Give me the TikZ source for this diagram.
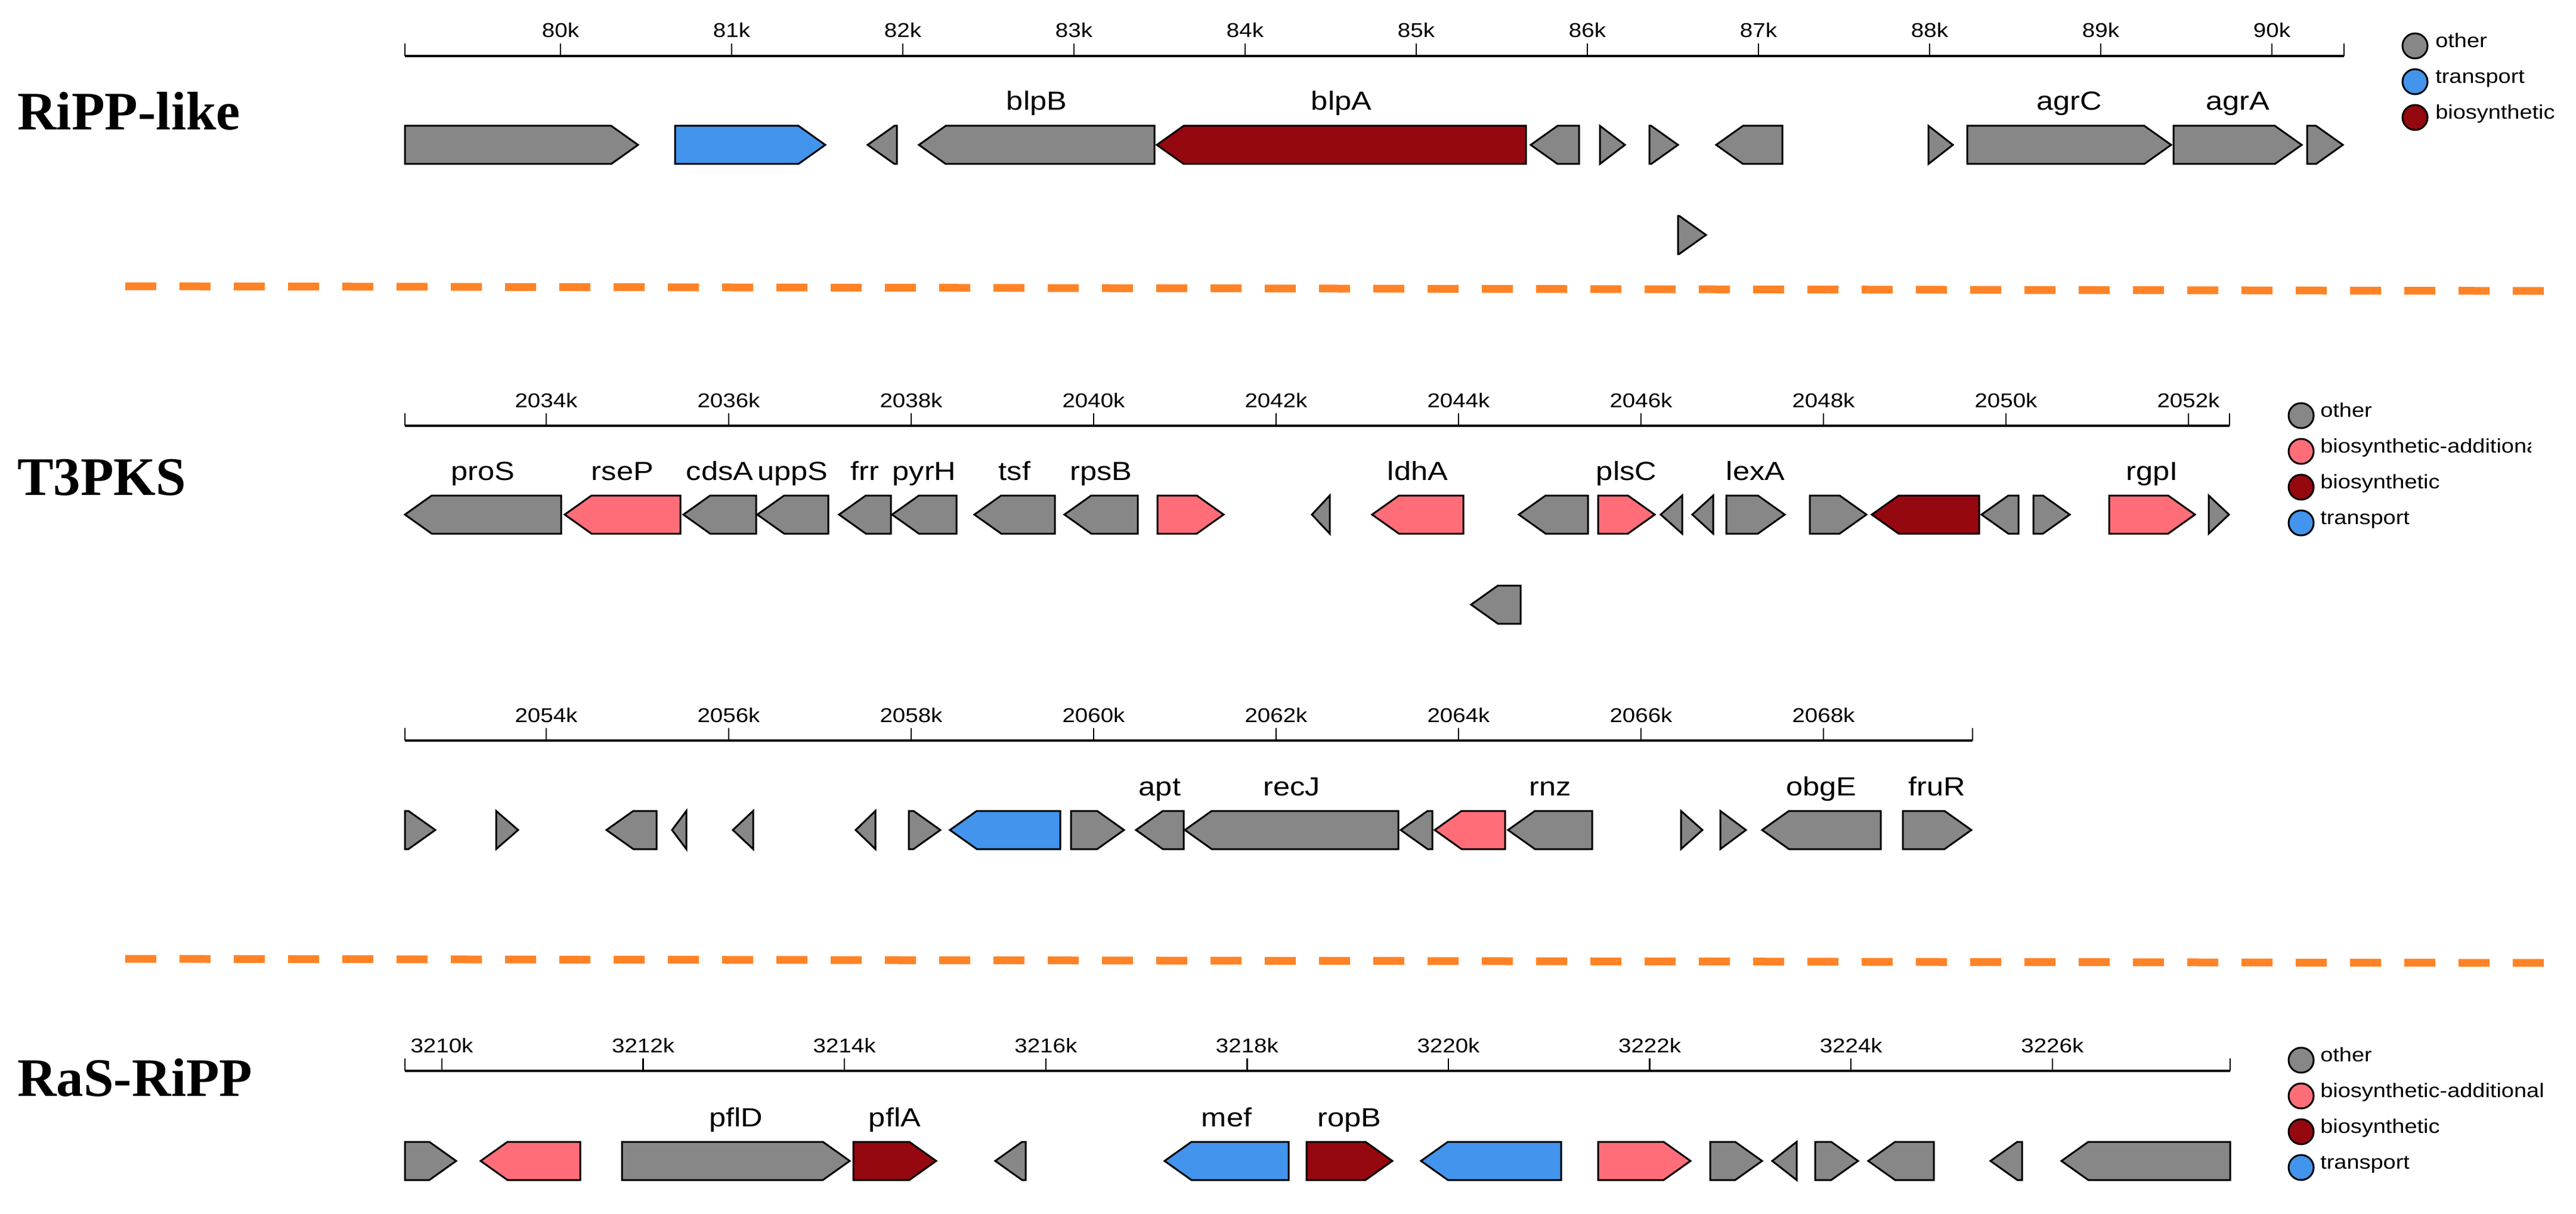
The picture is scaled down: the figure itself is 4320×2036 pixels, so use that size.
\documentclass[tikz,border=0pt]{standalone}
\usepackage{fontspec}
\setmainfont{Liberation Sans}
\newfontfamily\labfont{Liberation Sans}[FakeStretch=1.15]
\newfontfamily\ttlfont{Liberation Serif}
\definecolor{gOther}{RGB}{135,135,135}
\definecolor{gTrans}{RGB}{66,148,236}
\definecolor{gBio}{RGB}{150,8,16}
\definecolor{gAdd}{RGB}{255,110,120}
\definecolor{sepOrange}{RGB}{255,131,38}
\tikzset{
  genebox/.style={draw=black, line width=3pt, line join=miter},
  glabel/.style={anchor=base, inner sep=0pt, font=\labfont\fontsize{44}{50}\selectfont},
  ticklabel/.style={anchor=base, inner sep=0pt, font=\labfont\fontsize{33.5}{40}\selectfont},
  leglabel/.style={anchor=mid west, inner sep=0pt, font=\labfont\fontsize{33}{40}\selectfont},
  legdot/.style={circle, draw=black, line width=3pt, minimum size=42pt, inner sep=0pt},
  rowtitle/.style={anchor=base west, inner sep=0pt, font=\ttlfont\bfseries\fontsize{91}{100}\selectfont},
  rulerline/.style={line width=4pt, line cap=butt},
  tickline/.style={line width=2.5pt},
  sepline/.style={draw=sepOrange, line width=13pt, dash pattern=on 52pt off 39pt}
}
% forward gene: x1, x2, yc, colour, label
\newcommand{\gfwd}[5]{%
  \pgfmathsetmacro{\hb}{max(#1,#2-45)}%
  \filldraw[genebox, fill=#4] (#1,#3-32) -- (\hb,#3-32) -- (#2,#3) -- (\hb,#3+32) -- (#1,#3+32) -- cycle;%
  \node[glabel] at ({(#1+#2)/2},#3-58) {#5};}
% reverse gene: xtip, xend, yc, colour, label
\newcommand{\grev}[5]{%
  \pgfmathsetmacro{\hb}{min(#2,#1+45)}%
  \filldraw[genebox, fill=#4] (#2,#3-32) -- (\hb,#3-32) -- (#1,#3) -- (\hb,#3+32) -- (#2,#3+32) -- cycle;%
  \node[glabel] at ({(#1+#2)/2},#3-58) {#5};}
% tick: x, ybase, label
\newcommand{\rtick}[3]{%
  \draw[tickline] (#1,#2) -- (#1,#2-21);%
  \node[ticklabel] at (#1,#2-31) {#3};}
\begin{document}
\begin{tikzpicture}[x=1pt,y=-1pt]
\useasboundingbox (0,0) rectangle (4320,2036);
\fill[white] (0,0) rectangle (4320,2036);

% ---------- titles ----------
\node[rowtitle] (t1) at (29,218) {RiPP-like};
\node[rowtitle] (t2) at (29,830) {T3PKS};
\node[rowtitle] (t3) at (29,1838) {RaS-RiPP};

% ---------- separators ----------
\draw[sepline] (210,480) -- (4278,488);
\draw[sepline] (210,1608) -- (4278,1615);

% ---------- row 1 ruler ----------
\draw[rulerline] (679,94) -- (3931,94);
\draw[tickline] (679,94) -- (679,73);
\draw[tickline] (3931,94) -- (3931,73);
\foreach \k in {80,...,90} {
  \pgfmathsetmacro{\xx}{940+(\k-80)*287}
  \rtick{\xx}{94}{\k k}
}
% row 1 genes
\gfwd{679}{1070}{243}{gOther}{}
\gfwd{1132}{1384}{243}{gTrans}{}
\grev{1455}{1504}{243}{gOther}{}
\grev{1541}{1936}{243}{gOther}{blpB}
\grev{1940}{2559}{243}{gBio}{blpA}
\grev{2567}{2648}{243}{gOther}{}
\gfwd{2683}{2725}{243}{gOther}{}
\gfwd{2766}{2814}{243}{gOther}{}
\grev{2878}{2989}{243}{gOther}{}
\gfwd{3234}{3275}{243}{gOther}{}
\gfwd{3299}{3641}{243}{gOther}{agrC}
\gfwd{3645}{3860}{243}{gOther}{agrA}
\gfwd{3869}{3929}{243}{gOther}{}
\gfwd{2814}{2861}{394}{gOther}{}
% row 1 legend
\node[legdot, fill=gOther] (l1a) at (4050,77) {};
\node[legdot, fill=gTrans] (l1b) at (4050,137) {};
\node[legdot, fill=gBio] (l1c) at (4050,197) {};
\node[leglabel] at (4084,77) {other};
\node[leglabel] at (4084,137) {transport};
\node[leglabel] at (4084,197) {biosynthetic};

% ---------- row 2 ruler ----------
\draw[rulerline] (679,714) -- (3739,714);
\draw[tickline] (679,714) -- (679,693);
\draw[tickline] (3739,714) -- (3739,693);
\foreach \k in {2034,2036,...,2052} {
  \pgfmathsetmacro{\xx}{916+(\k-2034)*153}
  \rtick{\xx}{714}{\k k}
}
% row 2 genes
\grev{679}{941}{863}{gOther}{proS}
\grev{947}{1141}{863}{gAdd}{rseP}
\grev{1146}{1268}{863}{gOther}{cdsA}
\grev{1270}{1389}{863}{gOther}{uppS}
\grev{1407}{1494}{863}{gOther}{frr}
\grev{1496}{1604}{863}{gOther}{pyrH}
\grev{1634}{1769}{863}{gOther}{tsf}
\grev{1785}{1908}{863}{gOther}{rpsB}
\gfwd{1941}{2052}{863}{gAdd}{}
\grev{2200}{2230}{863}{gOther}{}
\grev{2301}{2454}{863}{gAdd}{ldhA}
\grev{2547}{2663}{863}{gOther}{}
\gfwd{2680}{2775}{863}{gAdd}{plsC}
\grev{2785}{2821}{863}{gOther}{}
\grev{2838}{2873}{863}{gOther}{}
\gfwd{2895}{2993}{863}{gOther}{lexA}
\gfwd{3035}{3130}{863}{gOther}{}
\grev{3139}{3319}{863}{gBio}{}
\grev{3323}{3385}{863}{gOther}{}
\gfwd{3410}{3471}{863}{gOther}{}
\gfwd{3537}{3681}{863}{gAdd}{rgpI}
\gfwd{3704}{3738}{863}{gOther}{}
\grev{2467}{2550}{1014}{gOther}{}
% row 2 legend
\node[legdot, fill=gOther] (l2a) at (3859,697) {};
\node[legdot, fill=gAdd] (l2b) at (3859,757) {};
\node[legdot, fill=gBio] (l2c) at (3859,817) {};
\node[legdot, fill=gTrans] (l2d) at (3859,877) {};
\begin{scope}
\clip (3885,660) rectangle (4244,910);
\node[leglabel] at (3891,697) {other};
\node[leglabel] at (3891,757) {biosynthetic-additional};
\node[leglabel] at (3891,817) {biosynthetic};
\node[leglabel] at (3891,877) {transport};
\end{scope}

% ---------- row 3 ruler ----------
\draw[rulerline] (679,1242) -- (3308,1242);
\draw[tickline] (679,1242) -- (679,1221);
\draw[tickline] (3308,1242) -- (3308,1221);
\foreach \k in {2054,2056,...,2068} {
  \pgfmathsetmacro{\xx}{916+(\k-2054)*153}
  \rtick{\xx}{1242}{\k k}
}
% row 3 genes
\gfwd{679}{730}{1392}{gOther}{}
\gfwd{832}{869}{1392}{gOther}{}
\grev{1017}{1101}{1392}{gOther}{}
\grev{1127}{1151}{1392}{gOther}{}
\grev{1229}{1263}{1392}{gOther}{}
\grev{1435}{1468}{1392}{gOther}{}
\gfwd{1524}{1577}{1392}{gOther}{}
\grev{1593}{1778}{1392}{gTrans}{}
\gfwd{1796}{1885}{1392}{gOther}{}
\grev{1905}{1985}{1392}{gOther}{apt}
\grev{1987}{2345}{1392}{gOther}{recJ}
\grev{2349}{2402}{1392}{gOther}{}
\grev{2406}{2524}{1392}{gAdd}{}
\grev{2529}{2670}{1392}{gOther}{rnz}
\gfwd{2819}{2855}{1392}{gOther}{}
\gfwd{2885}{2928}{1392}{gOther}{}
\grev{2955}{3154}{1392}{gOther}{obgE}
\gfwd{3191}{3306}{1392}{gOther}{fruR}

% ---------- row 4 ruler ----------
\draw[rulerline] (679,1796) -- (3740,1796);
\draw[tickline] (679,1796) -- (679,1775);
\draw[tickline] (3740,1796) -- (3740,1775);
\foreach \k in {3210,3212,...,3226} {
  \pgfmathsetmacro{\xx}{741+(\k-3210)*168.8}
  \rtick{\xx}{1796}{\k k}
}
% row 4 genes
\gfwd{679}{765}{1947}{gOther}{}
\grev{806}{973}{1947}{gAdd}{}
\gfwd{1043}{1425}{1947}{gOther}{pflD}
\gfwd{1431}{1570}{1947}{gBio}{pflA}
\grev{1669}{1720}{1947}{gOther}{}
\grev{1953}{2161}{1947}{gTrans}{mef}
\gfwd{2191}{2335}{1947}{gBio}{ropB}
\grev{2383}{2618}{1947}{gTrans}{}
\gfwd{2680}{2835}{1947}{gAdd}{}
\gfwd{2868}{2955}{1947}{gOther}{}
\grev{2972}{3013}{1947}{gOther}{}
\gfwd{3044}{3116}{1947}{gOther}{}
\grev{3133}{3243}{1947}{gOther}{}
\grev{3338}{3391}{1947}{gOther}{}
\grev{3457}{3740}{1947}{gOther}{}
% row 4 legend
\node[legdot, fill=gOther] (l4a) at (3859,1778) {};
\node[legdot, fill=gAdd] (l4b) at (3859,1838) {};
\node[legdot, fill=gBio] (l4c) at (3859,1898) {};
\node[legdot, fill=gTrans] (l4d) at (3859,1958) {};
\node[leglabel] at (3891,1778) {other};
\node[leglabel] at (3891,1838) {biosynthetic-additional};
\node[leglabel] at (3891,1898) {biosynthetic};
\node[leglabel] at (3891,1958) {transport};
\end{tikzpicture}
\end{document}
